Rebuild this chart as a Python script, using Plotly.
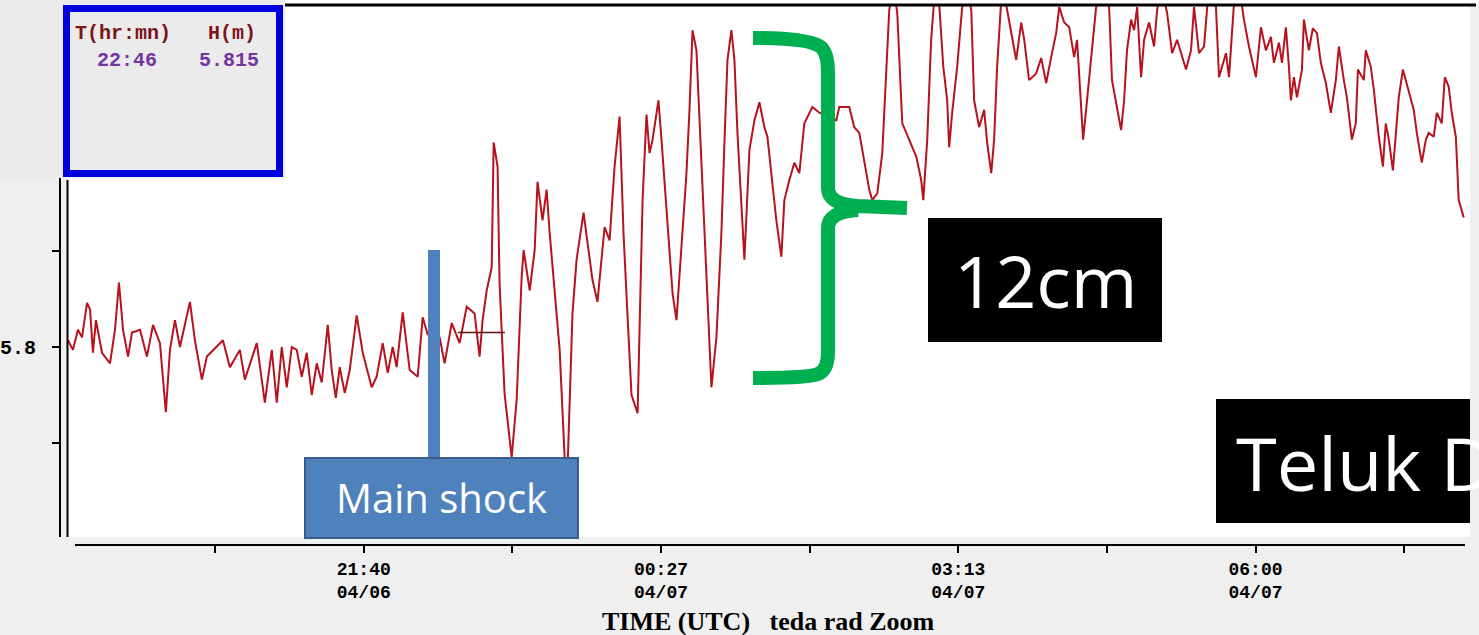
import plotly.graph_objects as go
import pandas as pd

W, H = 1479, 635

# ---------------- data ----------------
# minutes after 2010-04-06 18:53:20 UTC
minutes = [0.8, 3.6, 6.4, 8.7, 11.5, 13.2, 14.8, 16.5, 19.9, 24.4,
           27.2, 29.4, 31.7, 34.5, 36.7, 41.2, 45.1, 48.5, 52.4, 55.7,
           58.0, 60.8, 63.6, 69.2, 72.0, 75.9, 78.7, 87.7, 91.6, 97.2,
           100.0, 106.7, 111.2, 115.1, 117.9, 120.7, 123.5, 126.3, 129.1, 131.9,
           134.7, 137.5, 140.3, 143.1, 146.5, 148.7, 151.0, 153.2, 156.0, 158.8,
           162.7, 166.1, 171.1, 173.9, 177.3, 180.1, 182.9, 185.1, 188.5, 192.4,
           196.9, 199.7, 202.5, 209.2, 212.0, 216.0, 220.4, 224.4, 228.8, 231.6,
           233.3, 235.6, 238.4, 239.5, 241.7, 242.8, 245.6, 249.6, 252.4, 255.2,
           256.3, 259.7, 262.5, 264.1, 266.9, 269.2, 270.9, 272.5, 276.5, 279.3,
           280.9, 283.7, 286.0, 289.9, 292.1, 294.9, 297.7, 301.7, 304.5, 307.3,
           310.1, 312.3, 314.6, 316.8, 320.2, 321.3, 323.0, 325.2, 326.9, 328.6,
           331.9, 333.6, 336.4, 339.8, 342.0, 344.8, 347.6, 349.3, 351.0, 353.2,
           354.9, 357.7, 360.5, 361.6, 364.4, 367.2, 368.9, 370.6, 372.8, 374.5,
           376.2, 378.4, 380.1, 382.9, 385.7, 388.5, 391.3, 393.0, 395.8, 398.0,
           400.8, 402.5, 405.3, 408.1, 410.9, 413.7, 418.2, 422.1, 431.6, 433.3,
           438.9, 441.7, 444.5, 447.3, 450.1, 451.8, 454.6, 457.4, 459.6, 461.3,
           463.6, 465.8, 468.6, 472.5, 476.5, 479.2, 480.4, 482.6, 484.8, 487.1,
           489.3, 491.6, 493.8, 494.9, 496.6, 499.4, 502.2, 504.5, 507.3, 508.9,
           511.7, 514.5, 516.2, 518.5, 520.1, 521.8, 524.6, 527.4, 529.7, 532.5,
           535.3, 537.0, 539.7, 543.7, 546.5, 549.3, 552.1, 554.9, 556.6, 559.4,
           562.2, 565.0, 566.6, 568.9, 570.0, 572.2, 574.5, 577.3, 580.6, 584.6,
           586.2, 588.5, 591.3, 593.0, 594.6, 596.9, 598.6, 600.3, 602.5, 604.2,
           607.0, 609.8, 611.5, 613.7, 617.1, 619.9, 622.7, 627.7, 630.5, 632.2,
           635.0, 637.8, 640.6, 644.5, 646.2, 650.1, 651.8, 654.6, 657.4, 660.2,
           663.0, 666.9, 669.7, 672.5, 675.3, 677.0, 679.8, 681.5, 683.7, 685.4,
           686.5, 688.2, 689.9, 692.7, 693.8, 696.6, 698.8, 701.1, 703.3, 706.1,
           708.9, 711.7, 713.4, 716.2, 717.9, 720.7, 722.9, 724.1, 727.4, 728.5,
           731.3, 733.0, 735.8, 738.1, 739.7, 741.4, 743.7, 745.4, 747.0, 749.3,
           752.6, 755.4, 757.1, 759.9, 762.2, 763.8, 766.6, 768.3, 771.1, 772.8,
           775.0, 776.7, 779.0, 780.6, 783.4]

# sea level H (m)
heights = [5.807, 5.797, 5.818, 5.810, 5.846, 5.839, 5.794, 5.828, 5.794, 5.783,
           5.818, 5.867, 5.818, 5.790, 5.815, 5.818, 5.790, 5.823, 5.804, 5.732,
           5.797, 5.828, 5.800, 5.847, 5.807, 5.766, 5.790, 5.807, 5.779, 5.797,
           5.766, 5.804, 5.742, 5.797, 5.742, 5.800, 5.758, 5.800, 5.797, 5.769,
           5.794, 5.750, 5.783, 5.763, 5.823, 5.776, 5.747, 5.779, 5.752, 5.776,
           5.833, 5.794, 5.758, 5.769, 5.804, 5.773, 5.800, 5.779, 5.836, 5.776,
           5.769, 5.831, 5.813, 5.810, 5.783, 5.825, 5.804, 5.842, 5.835, 5.790,
           5.828, 5.859, 5.883, 6.013, 5.988, 5.867, 5.752, 5.685, 5.745, 5.873,
           5.901, 5.859, 5.901, 5.972, 5.932, 5.964, 5.919, 5.883, 5.797, 5.685,
           5.672, 5.835, 5.891, 5.940, 5.911, 5.870, 5.847, 5.925, 5.911, 5.988,
           6.040, 5.919, 5.831, 5.750, 5.731, 5.815, 5.953, 6.042, 6.002, 6.016,
           6.057, 6.016, 5.940, 5.856, 5.828, 5.901, 5.981, 6.047, 6.130, 6.109,
           6.040, 5.919, 5.807, 5.758, 5.810, 5.919, 6.013, 6.099, 6.130, 6.099,
           6.023, 5.953, 5.891, 6.005, 6.036, 6.055, 6.029, 6.019, 5.974, 5.932,
           5.894, 5.953, 5.974, 5.992, 5.981, 6.033, 6.050, 6.044, 6.036, 6.050,
           6.050, 6.029, 6.023, 5.995, 5.964, 5.953, 5.960, 6.002, 6.092, 6.151,
           6.177, 6.148, 6.033, 6.016, 5.998, 5.974, 5.953, 6.016, 6.120, 6.177,
           6.158, 6.092, 6.057, 6.008, 6.044, 6.092, 6.154, 6.177, 6.151, 6.057,
           6.029, 6.047, 6.013, 5.981, 6.016, 6.092, 6.177, 6.151, 6.127, 6.099,
           6.138, 6.120, 6.078, 6.085, 6.101, 6.075, 6.102, 6.127, 6.154, 6.138,
           6.133, 6.102, 6.120, 6.047, 6.016, 6.057, 6.099, 6.154, 6.177, 6.154,
           6.078, 6.054, 6.026, 6.057, 6.109, 6.141, 6.130, 6.154, 6.081, 6.120,
           6.138, 6.113, 6.151, 6.177, 6.148, 6.106, 6.120, 6.089, 6.109, 6.154,
           6.106, 6.113, 6.177, 6.154, 6.081, 6.106, 6.081, 6.158, 6.177, 6.141,
           6.113, 6.081, 6.133, 6.109, 6.123, 6.096, 6.117, 6.096, 6.133, 6.092,
           6.057, 6.081, 6.060, 6.089, 6.141, 6.109, 6.132, 6.127, 6.096, 6.075,
           6.044, 6.078, 6.113, 6.078, 6.060, 6.016, 6.033, 6.089, 6.078, 6.109,
           6.092, 6.068, 6.019, 5.988, 6.033, 6.016, 5.984, 6.023, 6.060, 6.089,
           6.065, 6.047, 6.023, 5.992, 6.016, 6.023, 6.019, 6.044, 6.033, 6.081,
           6.071, 6.044, 6.019, 5.953, 5.935]

base_time = "2010-04-06 18:53:20"
cursor_minutes = [219.5, 245.8]
cursor_time_label = "22:46"
cursor_height = 5.815

x_tick_vals = ["2010-04-06 20:16:40", "2010-04-06 21:40:00", "2010-04-06 23:03:20",
               "2010-04-07 00:26:40", "2010-04-07 01:50:00", "2010-04-07 03:13:20",
               "2010-04-07 04:36:40", "2010-04-07 06:00:00", "2010-04-07 07:23:20"]
x_tick_text = ["", "<b>21:40</b><br><b>04/06</b>", "", "<b>00:27</b><br><b>04/07</b>", "",
               "<b>03:13</b><br><b>04/07</b>", "", "<b>06:00</b><br><b>04/07</b>", ""]
x_range = ["2010-04-06 18:54:10", "2010-04-07 08:00:16"]

y_tick_vals = [5.7, 5.8, 5.9]
y_tick_text = ["", "<b>5.8</b>", ""]
y_range = [5.60208, 6.15625]

# ---------------- helpers (pixel -> paper) ----------------
def px(x):
    return x / W

def py(y):
    return 1 - y / H

t0 = pd.Timestamp(base_time)
times = [t0 + pd.Timedelta(minutes=m) for m in minutes]
cursor_times = [t0 + pd.Timedelta(minutes=m) for m in cursor_minutes]

fig = go.Figure()
fig.add_trace(go.Scatter(x=times, y=heights, mode="lines",
                         line=dict(color="#b8121c", width=2), hoverinfo="x+y"))
fig.add_trace(go.Scatter(x=cursor_times, y=[cursor_height, cursor_height], mode="lines",
                         line=dict(color="#5a1414", width=1.5), hoverinfo="skip"))

MONO = "Liberation Mono"
SANS = "Open Sans"

shapes = []

def rect(x0, y0, x1, y1, fill, line_color=None, line_width=0):
    shapes.append(dict(type="rect", xref="paper", yref="paper", layer="above",
                       x0=px(x0), x1=px(x1), y0=py(y1), y1=py(y0),
                       fillcolor=fill,
                       line=dict(color=line_color or fill, width=line_width)))

def line(x0, y0, x1, y1, color, width):
    shapes.append(dict(type="line", xref="paper", yref="paper", layer="above",
                       x0=px(x0), x1=px(x1), y0=py(y0), y1=py(y1),
                       line=dict(color=color, width=width)))

# info panel top-left
rect(0, 0, 285, 178, "#ebebeb")
rect(66.5, 8.5, 279.5, 173.5, "#ebebeb", "#0000dd", 7)
# top white strip + black frame line
rect(285, 0, 1479, 4, "white")
line(285, 5, 1476, 5, "black", 3)
# second y-axis line and x-axis line
line(67.5, 180, 67.5, 537, "black", 2)
line(75, 545, 1465, 545, "black", 2)
# main shock marker
rect(428, 250, 440, 458, "#4F81BD")
rect(305, 458, 578, 538, "#4F81BD", "#385D8A", 2)
# boxes
rect(928, 218, 1162, 342, "black")
rect(1216, 399, 1470, 523, "black")

# green curly bracket
def path_from(cmds):
    out = []
    for c in cmds:
        op, nums = c[0], c[1:]
        coords = []
        for i in range(0, len(nums), 2):
            coords.append(f"{px(nums[i]):.5f},{py(nums[i+1]):.5f}")
        out.append(op + " " + " ".join(coords))
    return " ".join(out)

brace = [("M", 753, 38), ("Q", 812, 38, 822, 48), ("Q", 828, 55, 828, 72),
         ("L", 828, 188), ("Q", 828, 204, 858, 206), ("L", 907, 208),
         ("M", 858, 210), ("Q", 828, 212, 828, 228), ("L", 828, 352),
         ("Q", 828, 370, 818, 374), ("Q", 808, 378, 753, 378)]
shapes.append(dict(type="path", xref="paper", yref="paper", layer="above",
                   path=path_from(brace), line=dict(color="#00B050", width=14)))

annotations = []

def text(x, y, s, size, color, family, xanchor="center"):
    annotations.append(dict(x=px(x), y=py(y), xref="paper", yref="paper", text=s,
                            showarrow=False, xanchor=xanchor, yanchor="middle",
                            font=dict(size=size, color=color, family=family)))

text(123, 33, "<b>T(hr:mn)</b>", 20, "#7d1418", MONO)
text(232, 33, "<b>H(m)</b>", 20, "#7d1418", MONO)
text(127, 60, f"<b>{cursor_time_label}</b>", 20, "#7434a0", MONO)
text(229, 60, f"<b>{cursor_height:.3f}</b>", 20, "#7434a0", MONO)
text(441, 497, "Main shock", 40, "white", SANS)
text(1045, 280, "12cm", 72, "white", SANS)
text(1234, 462, "Teluk Dalam", 74, "white", SANS, xanchor="left")
text(768, 621, "<b>TIME (UTC)&nbsp;&nbsp; teda rad Zoom</b>", 26, "black", "Liberation Serif")

fig.update_layout(
    width=W, height=H, autosize=False,
    margin=dict(l=0, r=0, t=0, b=0, pad=0),
    paper_bgcolor="#efefef", plot_bgcolor="white", showlegend=False,
    xaxis=dict(type="date", domain=[px(68), px(1470)], anchor="free", position=py(545),
               range=x_range, tickvals=x_tick_vals, ticktext=x_tick_text,
               ticks="outside", ticklen=7, tickwidth=2, tickcolor="black",
               showline=False, showgrid=False, zeroline=False, tickangle=0,
               tickfont=dict(family=MONO, size=18, color="black")),
    yaxis=dict(domain=[py(537), py(5)], anchor="free", position=px(60),
               range=y_range, tickvals=y_tick_vals, ticktext=y_tick_text,
               ticks="outside", ticklen=7, tickwidth=2, tickcolor="black",
               showline=True, linewidth=2, linecolor="black",
               showgrid=False, zeroline=False, ticklabelstandoff=12,
               tickfont=dict(family=MONO, size=20, color="black")),
    shapes=shapes, annotations=annotations,
)

fig.write_html("out.html", config={"displayModeBar": False},
               post_script="document.body.style.margin='0';document.body.style.overflow='hidden';")
